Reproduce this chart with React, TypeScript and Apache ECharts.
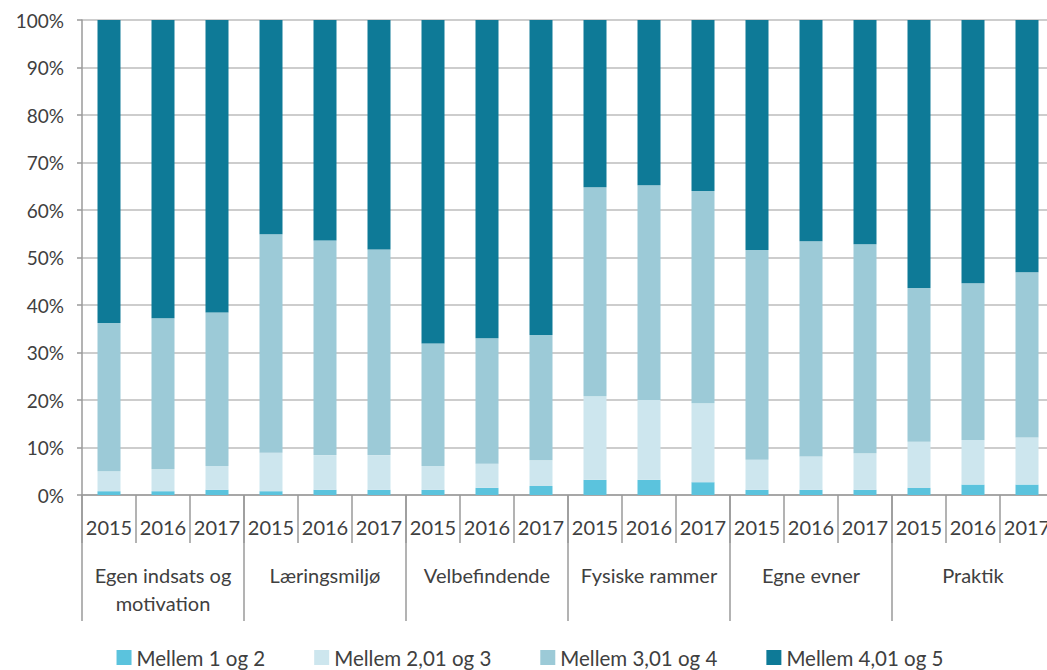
import React, { useEffect, useRef } from "react";
import * as echarts from "echarts";

const years = ["2015", "2016", "2017", "2015", "2016", "2017", "2015", "2016", "2017", "2015", "2016", "2017", "2015", "2016", "2017", "2015", "2016", "2017"];
const groups = ["Egen indsats og\nmotivation", "Læringsmiljø", "Velbefindende", "Fysiske rammer", "Egne evner", "Praktik"];
const seriesNames = ["Mellem 1 og 2", "Mellem 2,01 og 3", "Mellem 3,01 og 4", "Mellem 4,01 og 5"];
const mellem1og2 = [0.8, 0.8, 1.1, 0.8, 1.1, 1.1, 1.1, 1.5, 1.9, 3.2, 3.2, 2.7, 1.1, 1.1, 1.1, 1.5, 2.2, 2.2];
const mellem2og3 = [4.2, 4.6, 5.0, 8.1, 7.3, 7.3, 5.0, 5.1, 5.4, 17.6, 16.8, 16.6, 6.3, 7.0, 7.7, 9.7, 9.4, 9.9];
const mellem3og4 = [31.2, 31.8, 32.3, 46.0, 45.2, 43.3, 25.8, 26.4, 26.4, 44.0, 45.2, 44.7, 44.2, 45.3, 44.0, 32.4, 33.0, 34.8];
const mellem4og5 = [63.8, 62.8, 61.6, 45.1, 46.4, 48.3, 68.1, 67.0, 66.3, 35.2, 34.8, 36.0, 48.4, 46.6, 47.2, 56.4, 55.4, 53.1];
const colors = ["#5bc3dd", "#cde6ee", "#9ccad7", "#0e7a97"];

export default function App() {
  const ref = useRef<HTMLDivElement>(null);
  useEffect(() => {
    if (!ref.current) return;
    const chart = echarts.init(ref.current, undefined, { renderer: "svg" });
    const font = "Lato";
    const dataSets = [mellem1og2, mellem2og3, mellem3og4, mellem4og5];
    chart.setOption({
      animation: false,
      textStyle: { fontFamily: font },
      grid: { left: 82, right: 6, top: 20, bottom: 175, containLabel: false },
      legend: {
        data: seriesNames,
        top: 642,
        left: "center",
        itemWidth: 15,
        itemHeight: 15,
        itemGap: 49,
        icon: "rect",
        textStyle: { fontSize: 20.5, color: "#404040", fontFamily: font },
      },
      xAxis: [
        {
          type: "category",
          data: years,
          gridIndex: 0,
          position: "bottom",
          axisLine: { lineStyle: { color: "#9a9a9a", width: 1.5 } },
          axisTick: { show: true, interval: 0, length: 48, lineStyle: { color: "#9a9a9a", width: 1.5 } },
          axisLabel: { interval: 0, margin: 20, fontSize: 20, color: "#404040", fontFamily: font, lineHeight: 24 },
        },
        {
          type: "category",
          data: groups,
          gridIndex: 0,
          position: "bottom",
          axisLine: { show: false },
          axisTick: { show: true, interval: 0, length: 126, lineStyle: { color: "#9a9a9a", width: 1.5 } },
          axisLabel: { interval: 0, margin: 66, fontSize: 20, color: "#404040", fontFamily: font, lineHeight: 28 },
        },
      ],
      yAxis: {
        type: "value",
        min: 0,
        max: 100,
        interval: 10,
        axisLine: { show: true, lineStyle: { color: "#9a9a9a", width: 1.5 } },
        axisTick: { show: true, length: 5, lineStyle: { color: "#9a9a9a", width: 1.5 } },
        axisLabel: { formatter: "{value}%", fontSize: 19, color: "#404040", margin: 18, fontFamily: font },
        splitLine: { lineStyle: { color: "#bdbdbd", width: 1.5 } },
      },
      series: seriesNames.map((name, i) => ({
        name,
        type: "bar",
        stack: "total",
        xAxisIndex: 0,
        barWidth: 23,
        data: dataSets[i],
        itemStyle: { color: colors[i] },
      })),
    });
    return () => chart.dispose();
  }, []);
  return (
    <div style={{ position: "absolute", left: 0, top: 0, width: 1047, height: 670, overflow: "hidden", background: "#fff" }}>
      <div ref={ref} style={{ width: 1060, height: 670 }} />
    </div>
  );
}
